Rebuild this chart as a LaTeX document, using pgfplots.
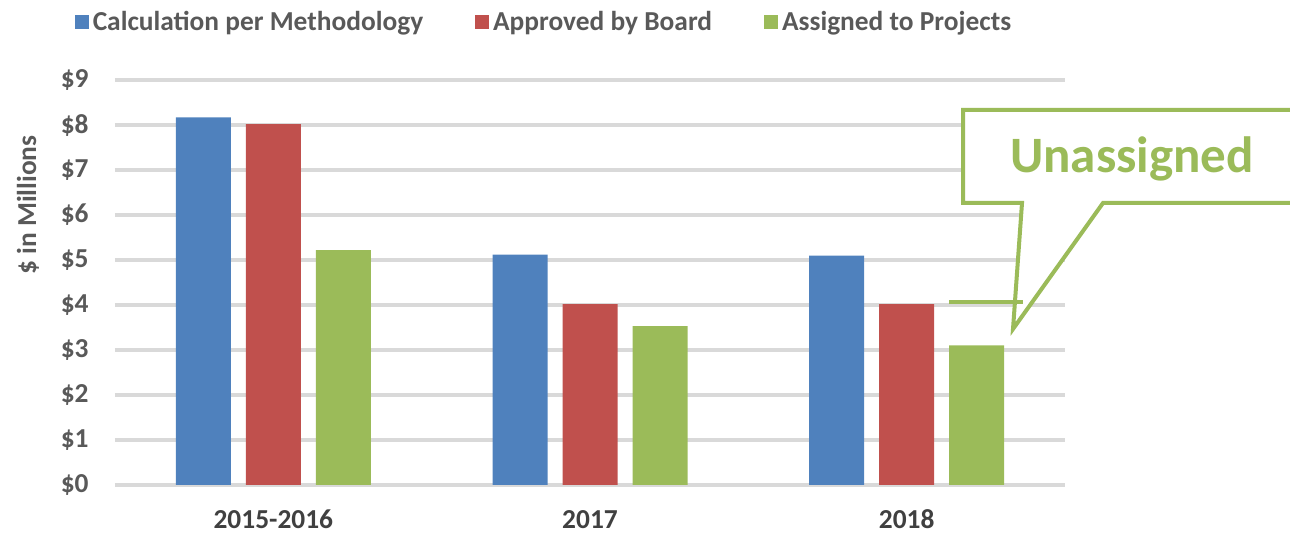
\documentclass[border=0pt]{standalone}
\usepackage{pgfplots}
\pgfplotsset{compat=1.18}
\usepackage{fontspec}
\setmainfont{Carlito}

\definecolor{cblue}{HTML}{4F81BD}
\definecolor{cred}{HTML}{C0504D}
\definecolor{cgreen}{HTML}{9BBB59}
\definecolor{cgrid}{HTML}{D9D9D9}
\definecolor{ctext}{HTML}{595959}

\begin{document}
\begin{tikzpicture}[x=0.5pt,y=0.5pt]
\useasboundingbox (0,0) rectangle (1290,534);
\begin{axis}[
    at={(57.5pt,24.5pt)}, anchor=south west,
    scale only axis,
    width=475pt, height=202.5pt,
    ybar=7.5pt,
    bar width=27.5pt,
    xmin=-0.5, xmax=2.5,
    ymin=0, ymax=9,
    xtick={0,1,2},
    xticklabels={2015-2016,2017,2018},
    ytick={0,...,9},
    yticklabels={\$0,\$1,\$2,\$3,\$4,\$5,\$6,\$7,\$8,\$9},
    major tick length=0pt,
    axis line style={draw=none},
    ymajorgrids=true,
    grid style={cgrid, line width=2.2pt},
    yticklabel style={font=\fontsize{13.7}{16}\selectfont\bfseries, text=ctext, anchor=east, inner sep=0pt, xshift=-13pt},
    xticklabel style={font=\fontsize{13.7}{16}\selectfont\bfseries, text=black!75, anchor=base, inner sep=0pt, yshift=-22pt},
    ylabel={\$ in Millions},
    ylabel style={font=\fontsize{13.7}{16}\selectfont\bfseries, text=ctext, at={(axis description cs:-0.0916,0.691)}, anchor=center},
    legend columns=3,
    legend style={at={(0.4526,1.143)}, anchor=center, draw=none, fill=none,
        font=\fontsize{13.7}{16}\selectfont\bfseries, text=ctext,
        /tikz/every even column/.append style={column sep=24pt}},
    legend image code/.code={\fill[#1,draw=none] (0pt,-3.5pt) rectangle (7pt,3.5pt);},
]
\addplot[fill=cblue, draw=none] coordinates {(0,8.17) (1,5.12) (2,5.10)};
\addplot[fill=cred, draw=none] coordinates {(0,8.02) (1,4.02) (2,4.02)};
\addplot[fill=cgreen, draw=none] coordinates {(0,5.22) (1,3.53) (2,3.10)};
\legend{Calculation per Methodology, Approved by Board, Assigned to Projects}
\end{axis}
\begin{scope}
\clip (0,0) rectangle (1290,534);
\filldraw[draw=cgreen, fill=white, line width=2pt, line join=miter]
    (963,424) -- (1300,424) -- (1300,331) -- (1103,331) -- (1013,205)
    -- (1022,331) -- (963,331) -- cycle;
\end{scope}
\draw[cgreen, line width=2pt] (949,232) -- (1023,232);
\node[text=cgreen, font=\fontsize{25.5}{30}\selectfont\bfseries, anchor=base] at (1132,361) {Unassigned};
\end{tikzpicture}
\end{document}
